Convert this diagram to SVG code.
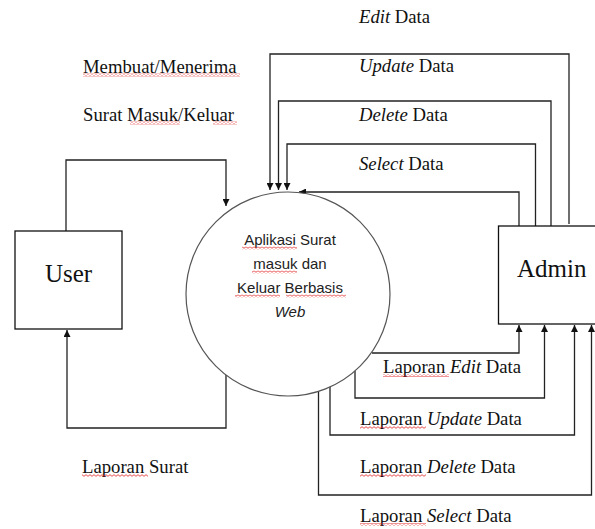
<svg xmlns="http://www.w3.org/2000/svg" width="595" height="529" viewBox="0 0 595 529">
  <style>
    .lbl { font-family: "Liberation Serif", "Times New Roman", serif; font-size: 18.7px; fill: #111; }
    .big { font-family: "Liberation Serif", "Times New Roman", serif; font-size: 25px; fill: #111; }
    .proc { font-family: "Liberation Sans", Arial, sans-serif; font-size: 15px; fill: #222; text-anchor: middle; }
    .box { fill: #fff; stroke: #111; stroke-width: 1.3; }
    .flow { fill: none; stroke: #222; stroke-width: 1.3; }
    .sq { fill: url(#wave); }
    .it { font-style: italic; }
  </style>
  <defs>
    <marker id="arr" viewBox="0 0 10 10" refX="10" refY="5" markerWidth="7" markerHeight="7" markerUnits="userSpaceOnUse" orient="auto">
      <path d="M0 0 L10 5 L0 10 Z" fill="#111"/>
    </marker>
    <!-- spell-check style wavy underline -->
    <pattern id="wave" width="4" height="3" patternUnits="userSpaceOnUse">
      <path d="M0 2.3 L2 0.7 L4 2.3" fill="none" stroke="#e02020" stroke-width="0.8"/>
    </pattern>
  </defs>

  <!-- connectors -->
  <g id="connectors">
    <!-- User to process -->
    <path class="flow" d="M66 231 V160 H226 V206" marker-end="url(#arr)"/>
    <!-- process to User -->
    <path class="flow" d="M226 375 V428 H67 V330" marker-end="url(#arr)"/>
    <!-- Admin to process -->
    <path class="flow" d="M569 224 V54 H270 V190" marker-end="url(#arr)"/>
    <path class="flow" d="M551 226 V101 H278.5 V190" marker-end="url(#arr)"/>
    <path class="flow" d="M535.5 226 V144 H287 V190" marker-end="url(#arr)"/>
    <path class="flow" d="M519 226 V192 H299" marker-end="url(#arr)"/>
    <!-- process to Admin -->
    <path class="flow" d="M372 353 H519 V325" marker-end="url(#arr)"/>
    <path class="flow" d="M355 371 V398 H544.5 V325" marker-end="url(#arr)"/>
    <path class="flow" d="M330 387 V435 H574.5 V325" marker-end="url(#arr)"/>
    <path class="flow" d="M318.5 391 V495 H591.5 V325" marker-end="url(#arr)"/>
  </g>

  <!-- flow labels -->
  <g id="labels">
    <text class="lbl" x="83" y="73">Membuat/Menerima</text>
    <rect class="sq" x="83" y="73.5" width="157" height="3"/>
    <text class="lbl" x="83" y="121">Surat Masuk/Keluar</text>
    <rect class="sq" x="130" y="121.5" width="50" height="3"/>
    <rect class="sq" x="213" y="121.5" width="24" height="3"/>

    <text class="lbl" x="359" y="23"><tspan class="it">Edit</tspan> Data</text>
    <text class="lbl" x="359" y="72"><tspan class="it">Update</tspan> Data</text>
    <text class="lbl" x="359" y="121"><tspan class="it">Delete</tspan> Data</text>
    <text class="lbl" x="359" y="170"><tspan class="it">Select</tspan> Data</text>

    <text class="lbl" x="383" y="373">Laporan <tspan class="it">Edit</tspan> Data</text>
    <rect class="sq" x="383" y="374" width="66" height="3"/>
    <text class="lbl" x="360" y="425">Laporan <tspan class="it">Update</tspan> Data</text>
    <rect class="sq" x="360" y="426" width="66" height="3"/>
    <text class="lbl" x="360" y="473">Laporan <tspan class="it">Delete</tspan> Data</text>
    <rect class="sq" x="360" y="474" width="66" height="3"/>
    <text class="lbl" x="360" y="522">Laporan <tspan class="it">Select</tspan> Data</text>
    <rect class="sq" x="360" y="523" width="66" height="3"/>

    <text class="lbl" x="82" y="473">Laporan Surat</text>
    <rect class="sq" x="82" y="474" width="66" height="3"/>
  </g>

  <!-- external entity: User -->
  <g id="user">
    <rect class="box" x="15" y="231" width="107" height="98"/>
    <text class="big" x="68.5" y="282" text-anchor="middle">User</text>
  </g>

  <!-- process -->
  <g id="process">
    <circle cx="288" cy="294" r="102" fill="#fff" stroke="#555" stroke-width="1.2"/>
    <text class="proc" x="290" y="245">Aplikasi Surat</text>
    <rect class="sq" x="242" y="246.5" width="55" height="3"/>
    <text class="proc" x="290" y="269">masuk dan</text>
    <rect class="sq" x="252" y="270.5" width="45" height="3"/>
    <text class="proc" x="290" y="293">Keluar Berbasis</text>
    <rect class="sq" x="235" y="294.5" width="45" height="3"/>
    <rect class="sq" x="286" y="294.5" width="60" height="3"/>
    <text class="proc it" x="290" y="317">Web</text>
  </g>

  <!-- external entity: Admin -->
  <g id="admin">
    <rect class="box" x="498.5" y="226" width="110" height="98"/>
    <text class="big" x="517" y="277">Admin</text>
  </g>
</svg>
